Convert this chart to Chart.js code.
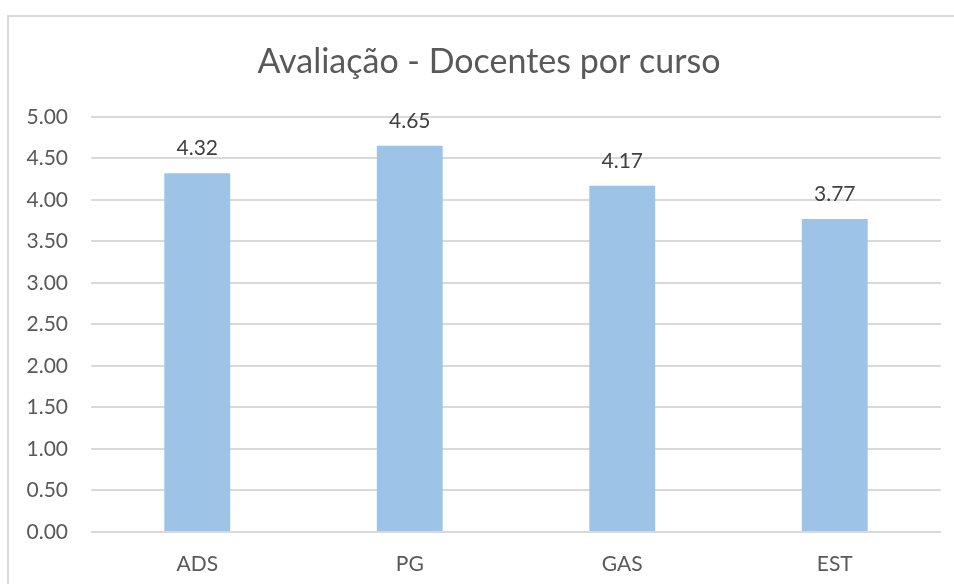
<!DOCTYPE html>
<html>
<head>
<meta charset="utf-8">
<script src="https://cdn.jsdelivr.net/npm/chart.js@4/dist/chart.umd.min.js"></script>
<style>
html,body{margin:0;padding:0;background:#fff;}
#wrap{position:absolute;left:0;top:0;width:954px;height:584px;}
</style>
</head>
<body>
<div id="wrap"><canvas id="c" width="954" height="584"></canvas></div>
<script>
const chartTitle = "Avaliação - Docentes por curso";
const categories = ["ADS", "PG", "GAS", "EST"];
const values = [4.32, 4.65, 4.17, 3.77];
const yTicks = [0, 0.5, 1, 1.5, 2, 2.5, 3, 3.5, 4, 4.5, 5];

const FONT = "Lato, 'Open Sans', sans-serif";

const framePlugin = {
  id: 'frame',
  beforeDraw(chart) {
    const ys = chart.scales.y;
    if (ys) {
      ys._computeLabelArea = function () {
        return { top: 0, left: 0, bottom: chart.height, right: this.right };
      };
    }
    const ctx = chart.ctx;
    ctx.save();
    ctx.strokeStyle = '#D9D9D9';
    ctx.lineWidth = 2;
    ctx.beginPath();
    ctx.moveTo(8, 584);
    ctx.lineTo(8, 16);
    ctx.lineTo(954, 16);
    ctx.stroke();
    ctx.restore();
  }
};

const valueLabels = {
  id: 'valueLabels',
  afterDatasetsDraw(chart) {
    const ctx = chart.ctx;
    const meta = chart.getDatasetMeta(0);
    ctx.save();
    ctx.font = "21px " + FONT;
    ctx.fillStyle = '#404040';
    ctx.textAlign = 'center';
    ctx.textBaseline = 'alphabetic';
    meta.data.forEach((bar, i) => {
      ctx.fillText(values[i].toFixed(2), bar.x, bar.y - 18);
    });
    ctx.restore();
  }
};

new Chart(document.getElementById('c'), {
  type: 'bar',
  data: {
    labels: categories,
    datasets: [{
      data: values,
      backgroundColor: '#9DC3E6',
      borderWidth: 0,
      categoryPercentage: 1,
      barPercentage: 0.31
    }]
  },
  options: {
    responsive: false,
    animation: false,
    layout: { padding: { left: 37, right: 13, top: 0, bottom: 0 } },
    plugins: {
      legend: { display: false },
      tooltip: { enabled: false },
      title: {
        display: true,
        text: chartTitle,
        color: '#595959',
        font: { family: FONT, size: 34, weight: 'normal' },
        padding: { top: 42, bottom: 34 }
      }
    },
    scales: {
      x: {
        afterFit(scale) { scale.height = 52; },
        grid: { display: false, drawTicks: false },
        border: { display: false },
        ticks: {
          color: '#595959',
          font: { family: FONT, size: 21 },
          padding: 20
        }
      },
      y: {
        min: 0,
        max: 5,
        afterFit(scale) { scale.width = 54; },
        afterBuildTicks(scale) { scale.ticks = yTicks.map(v => ({ value: v })); },
        grid: { color: '#D9D9D9', lineWidth: 2, drawTicks: false },
        border: { display: false },
        ticks: {
          color: '#595959',
          font: { family: FONT, size: 21 },
          padding: 23,
          callback: (v) => Number(v).toFixed(2)
        }
      }
    }
  },
  plugins: [framePlugin, valueLabels]
});
</script>
</body>
</html>
